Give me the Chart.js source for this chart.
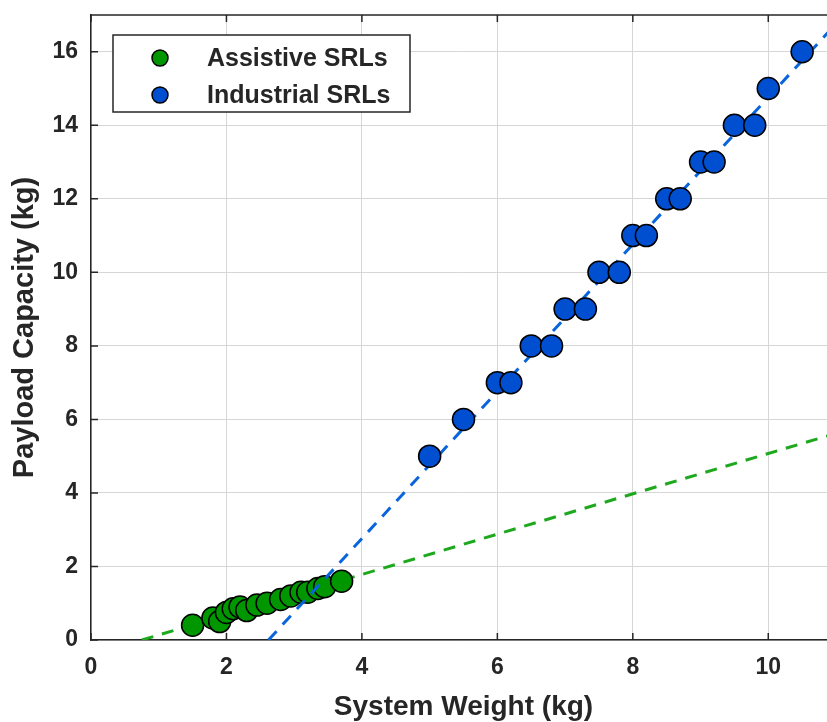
<!DOCTYPE html>
<html>
<head>
<meta charset="utf-8">
<script src="https://cdn.jsdelivr.net/npm/chart.js@4"></script>
<style>
  html, body { margin: 0; padding: 0; background: #fff; overflow: hidden; }
  #wrap { width: 827px; height: 722px; overflow: hidden; }
</style>
</head>
<body>
<div id="wrap"><canvas id="chart" width="860" height="722"></canvas></div>
<script>
// --- data ---
const assistiveX = [1.5, 1.8, 1.9, 2.0, 2.1, 2.2, 2.3, 2.45, 2.6, 2.8, 2.95, 3.1, 3.2, 3.35, 3.45, 3.7];
const assistiveY = [0.4, 0.6, 0.5, 0.75, 0.85, 0.9, 0.8, 0.95, 1.0, 1.1, 1.2, 1.3, 1.3, 1.4, 1.45, 1.6];

const industrialX = [5, 5.5, 6, 6.2, 6.5, 6.8, 7, 7.3, 7.5, 7.8, 8, 8.2, 8.5, 8.7, 9, 9.2, 9.5, 9.8, 10, 10.5];
const industrialY = [5, 6, 7, 7, 8, 8, 9, 9, 10, 10, 11, 11, 12, 12, 13, 13, 14, 14, 15, 16];

// dashed fit lines (end points)
const assistiveFitX = [0.75, 11];
const assistiveFitY = [0, 5.62];
const industrialFitX = [2.62, 11];
const industrialFitY = [0, 16.76];

const xTicks = [0, 2, 4, 6, 8, 10];
const yTicks = [0, 2, 4, 6, 8, 10, 12, 14, 16];

const toPts = (xs, ys) => xs.map((x, i) => ({ x: x, y: ys[i] }));

const GREEN = '#009600';
const BLUE = '#004fd0';
const AXIS = '#262626';
const FONT = '"Liberation Sans", Arial, sans-serif';

// inward tick marks, top frame line and the boxed legend
const matlabAxes = {
    id: 'matlabAxes',
    afterDraw(chart) {
        const c = chart.ctx;
        const a = chart.chartArea;
        const xs = chart.scales.x, ys = chart.scales.y;
        c.save();
        c.strokeStyle = AXIS;
        c.lineWidth = 1.5;
        c.beginPath();
        c.moveTo(a.left, a.top);
        c.lineTo(a.right, a.top);
        xTicks.forEach(v => {
            const px = xs.getPixelForValue(v);
            c.moveTo(px, a.bottom); c.lineTo(px, a.bottom - 7);
            c.moveTo(px, a.top); c.lineTo(px, a.top + 7);
        });
        yTicks.forEach(v => {
            const py = ys.getPixelForValue(v);
            c.moveTo(a.left, py); c.lineTo(a.left + 7, py);
        });
        c.stroke();

        // legend box
        const lx = 113, ly = 35, lw = 297, lh = 77;
        c.fillStyle = '#fff';
        c.fillRect(lx, ly, lw, lh);
        c.strokeRect(lx, ly, lw, lh);
        const items = chart.data.datasets.filter(d => d.inLegend).sort((p, q) => q.order - p.order);
        items.forEach((d, i) => {
            const cy = 58 + i * 37;
            c.beginPath();
            c.arc(160, cy, 8, 0, Math.PI * 2);
            c.fillStyle = d.backgroundColor;
            c.fill();
            c.lineWidth = 1.5;
            c.strokeStyle = '#000';
            c.stroke();
            c.fillStyle = AXIS;
            c.font = 'bold 25px ' + FONT;
            c.textBaseline = 'middle';
            c.fillText(d.label, 207, cy + 1);
        });
        c.restore();
    }
};

new Chart(document.getElementById('chart'), {
    type: 'scatter',
    data: {
        datasets: [
            { label: 'Industrial SRLs', inLegend: true, data: toPts(industrialX, industrialY),
              backgroundColor: BLUE, borderColor: '#000', borderWidth: 1.5, pointRadius: 11, order: 1 },
            { label: 'industrial fit', type: 'line', data: toPts(industrialFitX, industrialFitY),
              borderColor: '#0a64dc', borderWidth: 3, borderDash: [12, 9], pointRadius: 0, fill: false, order: 2 },
            { label: 'Assistive SRLs', inLegend: true, data: toPts(assistiveX, assistiveY),
              backgroundColor: GREEN, borderColor: '#000', borderWidth: 1.5, pointRadius: 11, order: 3 },
            { label: 'assistive fit', type: 'line', data: toPts(assistiveFitX, assistiveFitY),
              borderColor: '#1ea81e', borderWidth: 3, borderDash: [12, 9], pointRadius: 0, fill: false, order: 4 }
        ]
    },
    options: {
        responsive: false,
        animation: false,
        layout: { padding: { top: 15, right: 24, left: 0, bottom: 0 } },
        plugins: { legend: { display: false }, tooltip: { enabled: false } },
        scales: {
            x: {
                type: 'linear', min: 0, max: 11,
                afterFit: s => { s.height = 82; s.paddingLeft = 0; s.paddingRight = 0; },
                afterBuildTicks: s => { s.ticks = xTicks.map(v => ({ value: v })); },
                grid: { color: '#d6d6d6', lineWidth: 1, drawTicks: false },
                border: { color: AXIS, width: 1.5 },
                ticks: { color: AXIS, padding: 14, font: { family: FONT, size: 23, weight: 'bold' } },
                title: { display: true, text: 'System Weight (kg)', color: AXIS,
                         padding: { top: 0, bottom: 1 },
                         font: { family: FONT, size: 28, weight: 'bold', lineHeight: 1 } }
            },
            y: {
                type: 'linear', min: 0, max: 17,
                afterFit: s => { s.width = 91; s.paddingTop = 0; s.paddingBottom = 0; },
                afterBuildTicks: s => { s.ticks = yTicks.map(v => ({ value: v })); },
                grid: { color: '#d6d6d6', lineWidth: 1, drawTicks: false },
                border: { color: AXIS, width: 1.5 },
                ticks: { color: AXIS, padding: 13, font: { family: FONT, size: 23, weight: 'bold' } },
                title: { display: true, text: 'Payload Capacity (kg)', color: AXIS,
                         padding: { top: 10, bottom: 0 },
                         font: { family: FONT, size: 29, weight: 'bold', lineHeight: 1 } }
            }
        }
    },
    plugins: [matlabAxes]
});
</script>
</body>
</html>
